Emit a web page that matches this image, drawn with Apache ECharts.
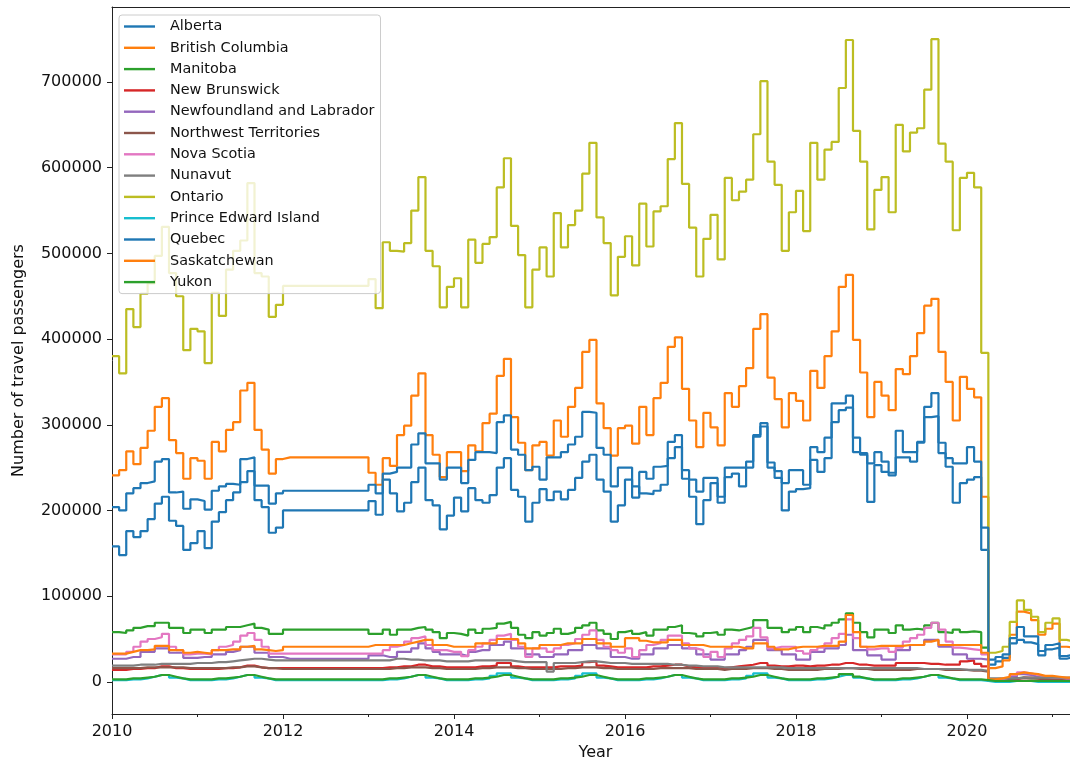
<!DOCTYPE html>
<html>
<head>
<meta charset="utf-8">
<title>Travel passengers by province</title>
<script src="https://cdn.jsdelivr.net/npm/echarts@6/dist/echarts.min.js"></script>
<style>
  html, body { margin: 0; padding: 0; background: #ffffff; }
  #chart { width: 1070px; height: 766px; }
</style>
</head>
<body>
<div id="chart"></div>
<script>
// Monthly travel passengers per province, Jan 2010 - Apr 2021 (values in thousands).
const provinces = [
  'Alberta', 'British Columbia', 'Manitoba', 'New Brunswick',
  'Newfoundland and Labrador', 'Northwest Territories', 'Nova Scotia',
  'Nunavut', 'Ontario', 'Prince Edward Island', 'Quebec', 'Saskatchewan', 'Yukon'
];

const alberta = [
  158,148,176,169,176,190,208,216,188,182,154,162,
  176,156,187,198,212,221,233,246,212,204,174,180,
  200,200,200,200,200,200,200,200,200,200,200,200,
  211,195,236,220,199,209,233,250,212,206,178,194,
  215,199,226,212,209,218,250,261,224,216,187,209,
  225,212,222,213,224,238,257,265,236,222,187,206,
  236,228,220,219,223,230,261,274,237,216,184,212,
  232,209,239,243,228,250,286,298,250,238,200,222,
  225,226,259,245,261,303,317,320,268,265,210,253,
  245,241,262,262,257,279,309,310,267,251,209,232,
  236,239,154,20,24,28,45,49,46,44,31,38,
  40,27,29,29
];
const britishColumbia = [
  241,247,269,254,273,293,321,331,282,267,237,261,
  258,237,280,269,294,303,340,349,294,271,243,260,
  262,262,262,262,262,262,262,262,262,262,262,262,
  244,230,261,252,288,299,334,360,288,265,239,268,
  268,246,276,269,302,313,357,377,309,279,247,276,
  280,264,305,286,321,343,385,399,325,296,264,296,
  299,278,321,288,331,349,391,402,342,305,274,314,
  297,276,337,321,345,366,412,429,355,330,297,337,
  328,305,363,343,380,409,461,475,399,361,309,350,
  334,317,365,359,380,407,439,447,385,350,305,356,
  342,332,216,16,18,25,55,82,80,72,55,62,
  68,41,40,40
];
const manitoba = [
  58,57,60,63,65,65,69,69,63,63,57,61,
  61,57,61,61,64,64,66,68,63,61,56,56,
  61,61,61,61,61,61,61,61,61,61,61,61,
  56,56,61,55,61,61,63,64,61,58,51,57,
  56,54,61,57,62,63,68,70,63,55,51,58,
  54,57,62,56,58,63,66,69,60,56,50,58,
  60,56,58,54,61,61,64,66,57,56,53,57,
  58,55,61,60,62,64,72,72,63,63,58,61,
  64,58,64,62,66,69,73,80,69,58,52,61,
  61,57,66,61,62,61,66,69,58,57,61,58,
  59,58,40,2,2,3,4,5,4,4,3,3,
  3,3,3,3
];
const newBrunswick = [
  14,14,15,15,16,16,18,18,16,16,15,15,
  15,15,15,16,16,17,19,19,17,16,16,16,
  16,16,16,16,16,16,16,16,16,16,16,16,
  16,16,17,17,18,18,20,20,18,18,17,17,
  17,17,17,18,18,19,22,22,18,17,17,17,
  17,17,18,18,18,19,23,24,19,18,17,17,
  17,17,17,18,18,19,20,20,18,17,17,17,
  17,16,17,18,19,20,22,22,19,18,18,19,
  19,18,19,19,20,20,22,22,20,20,19,19,
  19,19,22,22,22,22,21,21,20,20,20,24,
  25,21,18,1,1,2,3,5,5,4,3,3,
  3,3,3,3
];
const newfoundland = [
  27,27,29,29,35,35,39,39,34,34,28,28,
  29,29,32,32,35,37,41,41,34,34,29,29,
  27,27,27,27,27,27,27,27,27,27,27,27,
  31,31,29,29,35,35,39,45,39,35,32,32,
  32,30,35,37,37,43,43,47,39,39,32,32,
  29,29,32,32,37,37,43,43,39,39,29,29,
  27,27,32,32,39,39,43,43,39,39,32,32,
  26,26,32,32,37,41,49,49,37,37,32,32,
  26,26,35,35,39,39,43,55,37,37,31,31,
  26,26,37,37,43,43,49,49,41,41,32,32,
  27,27,26,1,2,3,6,9,8,6,4,4,
  3,3,3,3
];
const northwestTerritories = [
  16,16,16,16,17,17,17,17,17,17,16,16,
  16,16,16,16,17,17,18,18,17,16,16,15,
  15,15,15,15,15,15,15,15,15,15,15,15,
  15,15,15,16,16,17,17,17,16,16,15,15,
  15,15,15,16,16,17,17,17,16,16,15,15,
  15,15,15,16,16,17,17,17,16,16,15,15,
  15,15,15,15,16,16,16,16,16,15,15,15,
  15,14,15,15,15,16,16,16,15,15,14,14,
  14,14,14,15,15,15,16,16,15,15,14,14,
  14,14,14,14,15,15,15,15,14,14,14,14,
  13,13,12,3,3,3,4,4,4,4,3,3,
  3,3,3,3
];
const novaScotia = [
  32,32,35,41,47,50,52,56,41,37,32,33,
  33,32,37,41,43,47,54,57,49,41,33,33,
  33,33,33,33,33,33,33,33,33,33,33,33,
  33,33,37,41,43,47,51,53,43,37,37,35,
  35,30,37,41,45,49,54,56,49,41,29,39,
  39,35,39,43,45,50,55,60,49,41,37,34,
  39,29,37,43,45,49,54,54,45,39,37,29,
  35,29,39,45,49,53,63,52,39,41,41,41,
  36,33,37,40,45,51,56,73,51,41,38,39,
  39,35,40,47,51,55,63,69,61,47,40,39,
  38,37,32,2,3,5,8,11,10,8,6,5,
  5,4,4,4
];
const nunavut = [
  19,19,19,20,20,20,21,21,21,21,21,22,
  22,22,23,23,24,25,26,27,27,26,25,25,
  25,25,25,25,25,25,25,25,25,25,25,25,
  25,25,25,27,27,26,26,25,25,25,24,24,
  24,24,25,25,25,25,25,25,24,23,23,23,
  23,12,22,22,22,23,24,24,23,22,22,22,
  21,21,21,21,21,21,20,20,19,19,18,18,
  18,17,17,17,17,17,17,17,17,17,16,16,
  16,16,16,16,16,16,16,16,16,16,16,16,
  16,16,16,16,16,15,15,15,15,15,15,14,
  14,14,13,4,4,4,4,5,5,5,5,5,
  5,5,5,5
];
const ontario = [
  380,360,435,414,453,465,497,531,477,450,387,412,
  409,372,454,427,481,503,515,582,477,473,426,440,
  462,462,462,462,462,462,462,462,462,462,462,462,
  470,436,513,503,502,512,550,589,503,485,437,461,
  471,437,516,489,511,519,577,611,532,498,437,481,
  507,473,547,507,533,550,593,629,542,512,451,496,
  520,486,558,508,549,555,610,652,581,530,473,517,
  545,493,588,562,572,586,639,701,607,580,503,548,
  573,526,629,586,621,630,693,749,643,607,528,574,
  589,548,650,619,641,646,691,750,628,607,527,588,
  594,577,384,34,36,41,70,95,84,76,58,69,
  74,49,47,47
];
const princeEdwardIsland = [
  2,2,3,3,4,6,8,8,5,4,2,2,
  2,2,3,3,4,6,8,8,5,4,2,2,
  2,2,2,2,2,2,2,2,2,2,2,2,
  2,2,3,3,4,6,8,8,5,4,2,2,
  2,2,3,3,4,7,10,10,5,4,2,2,
  2,2,3,3,4,7,10,10,5,4,2,2,
  2,2,3,3,4,6,8,8,5,4,2,2,
  2,2,3,3,4,7,10,10,5,4,2,2,
  2,2,3,3,4,6,8,8,5,4,2,2,
  2,2,3,3,4,6,8,8,5,4,2,2,
  2,2,1,0,0,0,1,1,1,0,0,0,
  0,0,0,0
];
const quebec = [
  204,200,220,226,232,234,257,260,221,222,202,213,
  211,201,223,228,231,230,260,262,229,229,208,220,
  223,223,223,223,223,223,223,223,223,223,223,223,
  230,220,243,245,250,250,277,290,255,255,236,250,
  250,232,259,268,268,267,303,311,271,265,247,251,
  236,262,262,268,277,286,315,314,273,265,228,250,
  250,215,245,237,251,252,280,288,247,236,222,238,
  238,216,250,250,250,257,288,302,256,246,232,247,
  247,230,274,268,285,325,325,334,285,267,255,268,
  257,244,293,268,268,280,321,337,279,261,255,255,
  274,257,180,26,29,32,51,64,53,53,36,43,
  45,30,32,32
];
const saskatchewan = [
  33,33,35,37,37,38,42,42,37,37,34,35,
  34,33,37,37,38,38,41,42,38,37,36,37,
  41,41,41,41,41,41,41,41,41,41,41,41,
  43,43,43,43,43,45,47,49,49,43,43,41,
  41,41,41,45,45,45,50,50,50,45,39,39,
  43,43,43,45,45,45,50,50,45,45,41,41,
  51,51,48,46,46,46,49,49,43,43,43,41,
  41,41,41,41,39,39,45,45,41,38,38,40,
  41,41,41,42,42,42,47,78,58,41,41,42,
  42,42,42,43,43,43,47,49,43,43,43,43,
  43,43,34,3,4,6,9,11,10,9,7,7,
  6,5,5,5
];
const yukon = [
  3,3,4,4,5,6,8,8,6,4,3,3,
  3,3,4,4,5,6,8,8,6,4,3,3,
  3,3,3,3,3,3,3,3,3,3,3,3,
  3,3,4,4,5,6,8,8,6,4,3,3,
  3,3,4,4,5,6,8,8,6,4,3,3,
  3,3,4,4,5,6,8,8,6,4,3,3,
  3,3,4,4,5,6,8,8,6,4,3,3,
  3,3,4,4,5,6,8,8,6,4,3,3,
  3,3,4,4,5,6,9,9,6,4,3,3,
  3,3,4,4,5,6,8,8,6,4,3,3,
  3,3,2,1,1,1,1,1,1,1,1,1,
  1,1,1,1
];

const seriesValues = [
  alberta, britishColumbia, manitoba, newBrunswick, newfoundland,
  northwestTerritories, novaScotia, nunavut, ontario, princeEdwardIsland,
  quebec, saskatchewan, yukon
];

// matplotlib tab10 cycle
const palette = [
  '#1f77b4', '#ff7f0e', '#2ca02c', '#d62728', '#9467bd', '#8c564b',
  '#e377c2', '#7f7f7f', '#bcbd22', '#17becf', '#1f77b4', '#ff7f0e', '#2ca02c'
];

const yTicks = [0, 100000, 200000, 300000, 400000, 500000, 600000, 700000];
const yearLabels = [2010, 2012, 2014, 2016, 2018, 2020];
const oddYears = [2011, 2013, 2015, 2017, 2019, 2021];

// Month labels "YYYY-MM", one per reading
const months = [];
for (let k = 0; k < ontario.length; k++) {
  const y = 2010 + Math.floor(k / 12);
  const m = (k % 12) + 1;
  months.push(y + '-' + String(m).padStart(2, '0'));
}
// Position of a month on the decimal-year axis
function monthPos(label) {
  const [y, m] = label.split('-').map(Number);
  return y + (m - 1) / 12;
}

const FONT = 'DejaVu Sans';
const TEXT = '#111111';
const SPINE = '#222222';
const X_MIN = 2010, X_MAX = 2021.205;

const chart = echarts.init(document.getElementById('chart'), null, { renderer: 'canvas' });

const series = provinces.map((name, i) => ({
  name: name,
  type: 'line',
  step: 'end',
  symbol: 'none',
  showSymbol: false,
  xAxisIndex: 0,
  yAxisIndex: 0,
  color: palette[i],
  lineStyle: { width: 2.2, color: palette[i] },
  itemStyle: { color: palette[i] },
  emphasis: { disabled: true },
  data: months.map((m, k) => [monthPos(m), seriesValues[i][k] * 1000])
}));

chart.setOption({
  animation: false,
  backgroundColor: '#ffffff',
  grid: { left: 112, right: 0, top: 7, bottom: 52 },
  legend: {
    orient: 'vertical',
    left: 119, top: 15,
    padding: [3, 6, 3, 5],
    icon: 'rect',
    itemWidth: 31, itemHeight: 2.4, itemGap: 4.3,
    backgroundColor: 'rgba(255,255,255,0.8)',
    borderColor: '#cccccc', borderWidth: 1, borderRadius: 3,
    selectedMode: false,
    textStyle: {
      fontFamily: FONT, fontSize: 14.4, color: TEXT,
      lineHeight: 17, padding: [0, 0, 0, 10]
    },
    data: provinces
  },
  xAxis: [
    {
      type: 'value',
      min: X_MIN, max: X_MAX,
      name: 'Year', nameLocation: 'middle', nameGap: 28,
      // the full axes box runs a few pixels past the right edge, so the title sits right of centre
      nameTextStyle: { fontFamily: FONT, fontSize: 16, color: TEXT, padding: [0, 0, 0, 9] },
      axisLine: { show: true, onZero: false, lineStyle: { color: SPINE, width: 1 } },
      axisTick: { show: true, length: 5, lineStyle: { color: SPINE }, customValues: yearLabels },
      axisLabel: {
        show: true, margin: 10, fontFamily: FONT, fontSize: 16, color: TEXT,
        customValues: yearLabels, formatter: v => String(Math.round(v))
      },
      splitLine: { show: false }
    },
    {
      // unlabeled minor ticks on the odd years
      type: 'value', position: 'bottom', offset: 0,
      min: X_MIN, max: X_MAX,
      axisLine: { show: false, onZero: false },
      axisTick: { show: true, length: 3, lineStyle: { color: SPINE }, customValues: oddYears },
      axisLabel: { show: false },
      splitLine: { show: false }
    },
    {
      // top frame line
      type: 'value', position: 'top', offset: 0,
      min: X_MIN, max: X_MAX,
      axisLine: { show: true, onZero: false, lineStyle: { color: SPINE, width: 1 } },
      axisTick: { show: false },
      axisLabel: { show: false },
      splitLine: { show: false }
    }
  ],
  yAxis: {
    type: 'value',
    min: -37500, max: 787500,
    name: 'Number of travel passengers', nameLocation: 'middle', nameGap: 85,
    nameTextStyle: { fontFamily: FONT, fontSize: 16, color: TEXT },
    axisLine: { show: true, onZero: false, lineStyle: { color: SPINE, width: 1 } },
    axisTick: { show: true, length: 5, lineStyle: { color: SPINE }, customValues: yTicks },
    axisLabel: {
      show: true, margin: 10, fontFamily: FONT, fontSize: 16, color: TEXT,
      customValues: yTicks, formatter: v => String(Math.round(v))
    },
    splitLine: { show: false }
  },
  series: series
});
</script>
</body>
</html>
